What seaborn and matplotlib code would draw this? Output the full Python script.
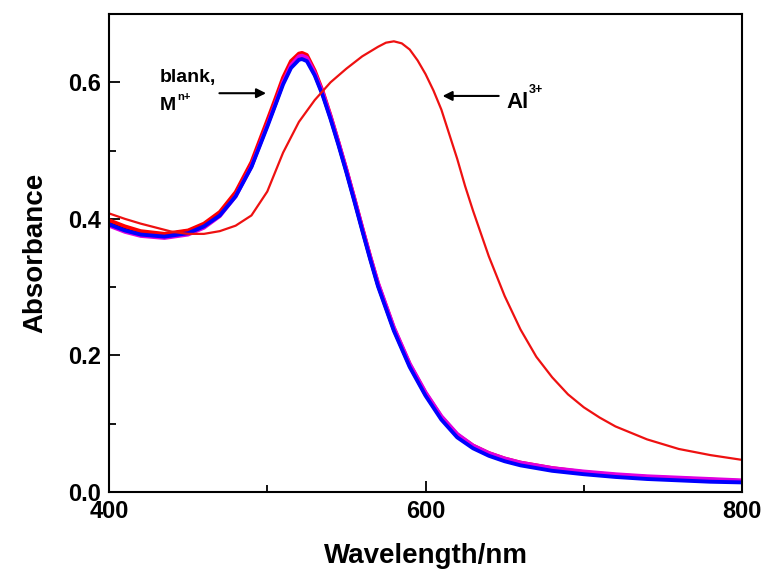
import matplotlib
matplotlib.use("Agg")
import matplotlib.pyplot as plt
import seaborn as sns
import pandas as pd

# ---- data ----
wl_blank = [400, 410, 420, 435, 450, 460, 470, 480, 490, 500, 505, 510, 515, 520, 522,
            525, 530, 535, 540, 545, 550, 555, 560, 565, 570, 580, 590, 600, 610, 620,
            630, 640, 650, 660, 680, 700, 720, 740, 760, 780, 800]
abs_black = [0.395, 0.386, 0.380, 0.377, 0.382, 0.391, 0.407, 0.435, 0.478, 0.538, 0.568,
             0.600, 0.624, 0.636, 0.637, 0.634, 0.612, 0.583, 0.548, 0.510, 0.470, 0.428,
             0.385, 0.343, 0.303, 0.238, 0.185, 0.143, 0.108, 0.082, 0.066, 0.055, 0.047,
             0.041, 0.033, 0.028, 0.024, 0.021, 0.019, 0.017, 0.015]
abs_red = [0.398, 0.389, 0.382, 0.378, 0.383, 0.393, 0.410, 0.439, 0.483, 0.544, 0.575,
           0.607, 0.631, 0.642, 0.643, 0.640, 0.617, 0.587, 0.551, 0.512, 0.472, 0.430,
           0.387, 0.345, 0.305, 0.240, 0.187, 0.145, 0.110, 0.084, 0.068, 0.057, 0.049,
           0.043, 0.035, 0.029, 0.025, 0.022, 0.020, 0.018, 0.016]
abs_magenta = [0.390, 0.381, 0.375, 0.372, 0.377, 0.387, 0.404, 0.433, 0.477, 0.537, 0.568,
               0.600, 0.625, 0.638, 0.639, 0.636, 0.614, 0.585, 0.550, 0.512, 0.472, 0.430,
               0.387, 0.345, 0.306, 0.241, 0.188, 0.146, 0.111, 0.085, 0.068, 0.057, 0.049,
               0.043, 0.035, 0.030, 0.026, 0.023, 0.021, 0.019, 0.017]
abs_blue = [0.392, 0.383, 0.377, 0.374, 0.379, 0.389, 0.405, 0.433, 0.476, 0.535, 0.566,
            0.597, 0.621, 0.633, 0.634, 0.631, 0.610, 0.581, 0.546, 0.508, 0.468, 0.426,
            0.383, 0.341, 0.301, 0.236, 0.183, 0.141, 0.106, 0.080, 0.064, 0.053, 0.045,
            0.039, 0.031, 0.026, 0.022, 0.019, 0.017, 0.015, 0.014]

wl_al = [400, 410, 420, 430, 440, 450, 460, 470, 480, 490, 500, 510, 520, 530, 540, 550,
         560, 570, 575, 580, 585, 590, 595, 600, 605, 610, 615, 620, 625, 630, 640, 650,
         660, 670, 680, 690, 700, 710, 720, 740, 760, 780, 800]
abs_al = [0.408, 0.400, 0.393, 0.387, 0.381, 0.378, 0.378, 0.382, 0.390, 0.405, 0.440,
          0.497, 0.542, 0.574, 0.600, 0.620, 0.638, 0.652, 0.658, 0.660, 0.657, 0.648,
          0.632, 0.612, 0.588, 0.560, 0.524, 0.488, 0.448, 0.412, 0.345, 0.287, 0.238,
          0.198, 0.168, 0.143, 0.124, 0.109, 0.096, 0.077, 0.063, 0.054, 0.047]

x_ticks = [400, 600, 800]
y_ticks = [0.0, 0.2, 0.4, 0.6]

sns.set_style("ticks")
plt.rcParams['font.family'] = ['Liberation Sans', 'DejaVu Sans']
plt.rcParams['font.weight'] = 'bold'
plt.rcParams['text.color'] = 'black'
plt.rcParams['axes.labelcolor'] = 'black'
plt.rcParams['xtick.color'] = 'black'
plt.rcParams['ytick.color'] = 'black'
plt.rcParams['axes.edgecolor'] = 'black'

fig = plt.figure(figsize=(7.65, 5.74), dpi=100)
ax = fig.add_axes([0.1425, 0.1429, 0.8275, 0.8327])

blank_series = [(abs_black, "black"), (abs_red, "#ff0000"),
                (abs_magenta, "#e000e0"), (abs_blue, "#0000ff")]
for vals, col in blank_series:
    df = pd.DataFrame({"wl": wl_blank, "A": vals})
    sns.lineplot(data=df, x="wl", y="A", ax=ax, color=col, lw=2.8, sort=False,
                 estimator=None)
df_al = pd.DataFrame({"wl": wl_al, "A": abs_al})
sns.lineplot(data=df_al, x="wl", y="A", ax=ax, color="#ee1111", lw=1.6, sort=False,
             estimator=None)

ax.set_xlim(400, 800)
ax.set_ylim(0, 0.70)
ax.set_xticks(x_ticks)
ax.set_xticks([500, 700], minor=True)
ax.set_yticks(y_ticks)
ax.set_yticks([0.1, 0.3, 0.5], minor=True)
ax.set_xticklabels([str(v) for v in x_ticks])
ax.set_yticklabels([f"{v:.1f}" for v in y_ticks])
ax.tick_params(which='both', direction='in', width=1.3, top=False, right=False)
ax.tick_params(which='major', length=8, labelsize=17, pad=6)
ax.tick_params(which='minor', length=5)
for sp in ax.spines.values():
    sp.set_linewidth(1.5)
    sp.set_visible(True)
for lab in ax.get_xticklabels() + ax.get_yticklabels():
    lab.set_fontweight('bold')

ax.set_xlabel("Wavelength/nm", fontsize=20, fontweight='bold', labelpad=14)
ax.set_ylabel("Absorbance", fontsize=20, fontweight='bold', labelpad=14)

# annotations
ax.text(432, 0.601, "blank,", fontsize=14, fontweight='bold')
ax.text(432, 0.560, "M", fontsize=14, fontweight='bold')
ax.text(443, 0.574, "n+", fontsize=8, fontweight='bold')
ax.annotate("", xy=(501, 0.584), xytext=(468, 0.584),
            arrowprops=dict(arrowstyle='-|>', lw=1.5, color='black', mutation_scale=14))
ax.text(651, 0.562, "Al", fontsize=16, fontweight='bold')
ax.text(665.5, 0.584, "3+", fontsize=9, fontweight='bold')
ax.annotate("", xy=(609, 0.580), xytext=(648, 0.580),
            arrowprops=dict(arrowstyle='-|>', lw=1.5, color='black', mutation_scale=14))

fig.savefig("out.png", dpi=100)
